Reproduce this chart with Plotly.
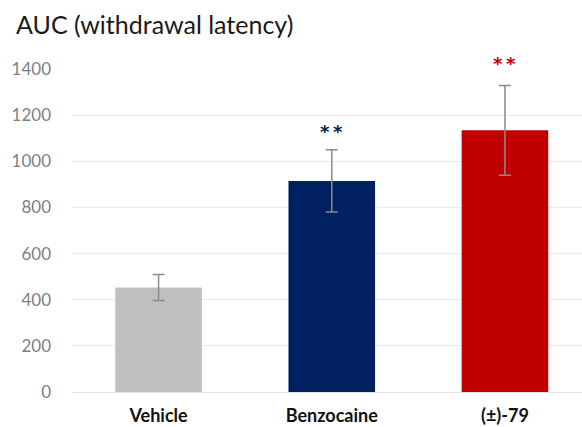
import plotly.graph_objects as go

# Data
groups = ["Vehicle", "Benzocaine", "(±)-79"]
auc_means = [453, 915, 1134]
auc_errors = [56, 135, 195]
bar_colors = ["#BFBFBF", "#002060", "#C00000"]
sig_labels = ["", "**", "**"]
sig_values = [None, 1128, 1425]
y_ticks = [0, 200, 400, 600, 800, 1000, 1200, 1400]
y_max = 1400

FONT = "Lato, 'Open Sans', sans-serif"

fig = go.Figure()
fig.add_trace(go.Bar(
    x=groups,
    y=auc_means,
    width=0.5,
    marker=dict(color=bar_colors, line=dict(width=0)),
    error_y=dict(type="data", array=auc_errors, visible=True,
                 color="#8C8C8C", thickness=1.5, width=6),
    showlegend=False,
))

# significance stars above the bars (paper y so stars above the axis top still show)
for g, lab, v, c in zip(groups, sig_labels, sig_values, bar_colors):
    if lab:
        fig.add_annotation(x=g, xref="x", y=v / y_max, yref="paper",
                           text="<b>" + "\u2009".join(lab) + "</b>", showarrow=False,
                           font=dict(family="DejaVu Sans", size=18, color=c),
                           yanchor="middle", xanchor="center")

fig.update_layout(
    width=582, height=427,
    margin=dict(l=72, r=0, t=69, b=35, autoexpand=False),
    paper_bgcolor="white", plot_bgcolor="white",
    title=dict(text="AUC (withdrawal latency)", x=16/582, xanchor="left",
               y=1 - 25/427, yanchor="middle",
               font=dict(family=FONT, size=25, color="#1a1a1a")),
)
fig.update_xaxes(
    range=[-0.5, 2.445], automargin=False,
    showgrid=False, showline=False, zeroline=False,
    tickfont=dict(family=FONT, size=18, color="#111111"),
    ticks="", ticklabelstandoff=11,
    tickprefix="<b>", ticksuffix="</b>",
)
fig.update_yaxes(
    range=[0, y_max], tickvals=y_ticks, automargin=False,
    showgrid=True, gridcolor="#EBEBEB", gridwidth=1,
    zeroline=True, zerolinecolor="#E3E3E3", zerolinewidth=1,
    showline=False,
    tickfont=dict(family=FONT, size=17, color="#7F7F7F"),
    ticks="", ticklabelstandoff=20,
)

fig.write_html("out.html")
